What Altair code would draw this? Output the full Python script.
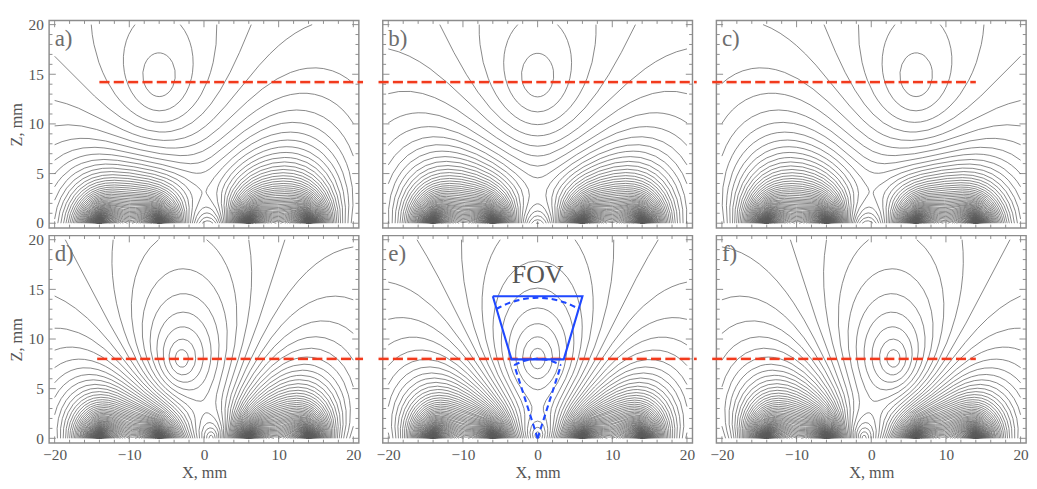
import math
import numpy as np
import pandas as pd
import altair as alt

# ---------------- values ----------------
PANEL_IDS = ["a", "b", "c", "d", "e", "f"]
PANEL_LABELS = ["a)", "b)", "c)", "d)", "e)", "f)"]
# field-free point of each panel (mm)
FFP_X = [-6.0, 0.0, 6.0, -3.0, 0.0, 3.0]
FFP_Z = [14.6, 14.6, 14.6, 8.0, 8.0, 8.0]
# magnet blocks below z = 0 (where the contour fans converge),
# magnetised along x, pointing towards each other
MAGNET_X0 = [-14.0, 6.0]
MAGNET_X1 = [-6.0, 14.0]
MAGNET_SIGN = [1.0, -1.0]
MAGNET_DEPTH = 4.0
# the innermost closed contour of panel e passes through this point
INNER_LOOP_PANEL = 4
INNER_LOOP_X = 0.0
INNER_LOOP_Z = 7.0
LEVEL_COUNT = 260

# red dashed line (crosses the gaps between panels)
RED_Z = [14.2, 14.2, 14.2, 8.0, 8.0, 8.0]
RED_X0 = [-14.0, -21.3, -21.3, -14.3, -21.3, -21.3]
RED_X1 = [21.3, 21.3, 14.0, 21.3, 21.3, 14.0]

# ticks
X_MAJOR = [-20, -10, 0, 10, 20]
X_MINOR = [-18, -16, -14, -12, -8, -6, -4, -2, 2, 4, 6, 8, 12, 14, 16, 18]
Z_MAJOR = [0, 5, 10, 15, 20]
Z_MINOR = [1, 2, 3, 4, 6, 7, 8, 9, 11, 12, 13, 14, 16, 17, 18, 19]

# FOV in panel e
FOV_X = [-6.0, 6.0, 3.5, -3.5, -6.0]
FOV_Z = [14.3, 14.3, 7.95, 7.95, 14.3]
FOV_OUTER_R = 14.15
FOV_INNER_R = 8.0
FOV_HALF_ANGLE = 23.0

# ---------------- layout ----------------
W, H = 324, 217
XDOM = [-20.74, 20.74]
ZDOM = [-0.48, 20.41]
PX_X = W / (XDOM[1] - XDOM[0])
PX_Z = H / (ZDOM[1] - ZDOM[0])
SERIF = "Liberation Serif"
GRAY_TXT = "#555555"
MAJOR_LEN, MINOR_LEN = 7.0, 3.5   # px

# ---------------- field model ----------------
XS = np.linspace(-20, 20, 201)
ZS = np.linspace(0, 20, 101)
GX, GZ = np.meshgrid(XS, ZS)


def face_field(x, z, x0, q):
    """vertical charged face at x = x0 from z = -MAGNET_DEPTH to 0."""
    dx = x - x0
    dx = np.where(np.abs(dx) < 1e-6, 1e-6, dx)
    z1, z2 = -MAGNET_DEPTH, 0.0
    r1 = dx ** 2 + (z - z1) ** 2
    r2 = dx ** 2 + (z - z2) ** 2 + 1e-4
    bz = 0.5 * np.log(r1 / r2)
    bx = np.arctan((z - z1) / dx) - np.arctan((z - z2) / dx)
    return q * bx, q * bz


def magnet_field(x, z):
    bx = np.zeros_like(x, dtype=float)
    bz = np.zeros_like(x, dtype=float)
    for a, b, sg in zip(MAGNET_X0, MAGNET_X1, MAGNET_SIGN):
        for x0, q in ((b, sg), (a, -sg)):
            fx, fz = face_field(x, z, x0, q)
            bx = bx + fx
            bz = bz + fz
    return bx, bz


def panel_field(p, x, z):
    bx, bz = magnet_field(np.asarray(x, float), np.asarray(z, float))
    fx, fz = magnet_field(np.array(FFP_X[p]), np.array(FFP_Z[p]))
    return np.hypot(bx - fx, bz - fz)


TABLE = {
    1: [(3, 0)], 2: [(0, 1)], 3: [(3, 1)], 4: [(1, 2)],
    5: [(3, 0), (1, 2)], 6: [(0, 2)], 7: [(3, 2)], 8: [(3, 2)],
    9: [(0, 2)], 10: [(0, 1), (3, 2)], 11: [(1, 2)], 12: [(3, 1)],
    13: [(0, 1)], 14: [(3, 0)],
}


def contour(F, level):
    nz, nx = F.shape
    s = (F > level).astype(np.int16)
    case = s[:-1, :-1] + 2 * s[:-1, 1:] + 4 * s[1:, 1:] + 8 * s[1:, :-1]
    ii, jj = np.nonzero((case > 0) & (case < 15))
    off = nz * nx
    adj = {}
    pts = {}

    def key_pt(i, j, e):
        if e == 0:
            a, b = F[i, j], F[i, j + 1]
            t = (level - a) / (b - a)
            return i * nx + j, (XS[j] + t * (XS[j + 1] - XS[j]), ZS[i])
        if e == 2:
            a, b = F[i + 1, j], F[i + 1, j + 1]
            t = (level - a) / (b - a)
            return (i + 1) * nx + j, (XS[j] + t * (XS[j + 1] - XS[j]), ZS[i + 1])
        if e == 3:
            a, b = F[i, j], F[i + 1, j]
            t = (level - a) / (b - a)
            return off + i * nx + j, (XS[j], ZS[i] + t * (ZS[i + 1] - ZS[i]))
        a, b = F[i, j + 1], F[i + 1, j + 1]
        t = (level - a) / (b - a)
        return off + i * nx + j + 1, (XS[j + 1], ZS[i] + t * (ZS[i + 1] - ZS[i]))

    for i, j in zip(ii, jj):
        for ea, eb in TABLE[int(case[i, j])]:
            ka, pa = key_pt(i, j, ea)
            kb, pb = key_pt(i, j, eb)
            pts[ka] = pa
            pts[kb] = pb
            adj.setdefault(ka, []).append(kb)
            adj.setdefault(kb, []).append(ka)

    visited = set()
    lines = []

    def walk(start):
        line = [start]
        visited.add(start)
        cur = start
        while True:
            nxt = None
            for n in adj[cur]:
                if n not in visited:
                    nxt = n
                    break
            if nxt is None:
                break
            visited.add(nxt)
            line.append(nxt)
            cur = nxt
        return line

    for k, v in adj.items():
        if len(v) == 1 and k not in visited:
            lines.append(walk(k))
    for k in adj:
        if k not in visited:
            ln = walk(k)
            ln.append(ln[0])
            lines.append(ln)
    return [np.array([pts[k] for k in ln]) for ln in lines]


def rdp(P, eps):
    n = len(P)
    if n < 3:
        return P
    Q = P * np.array([PX_X, PX_Z])
    keep = np.zeros(n, bool)
    keep[0] = keep[-1] = True
    stack = [(0, n - 1)]
    while stack:
        s, e = stack.pop()
        if e <= s + 1:
            continue
        a, b = Q[s], Q[e]
        seg = Q[s + 1:e]
        d = b - a
        L = math.hypot(d[0], d[1])
        if L < 1e-9:
            dist = np.hypot(seg[:, 0] - a[0], seg[:, 1] - a[1])
        else:
            dist = np.abs(d[0] * (seg[:, 1] - a[1]) - d[1] * (seg[:, 0] - a[0])) / L
        k = int(np.argmax(dist))
        if dist[k] > eps:
            m = s + 1 + k
            keep[m] = True
            stack.append((s, m))
            stack.append((m, e))
    return P[keep]


DELTA = float(panel_field(INNER_LOOP_PANEL, INNER_LOOP_X, INNER_LOOP_Z))
LEVELS = [DELTA * (k + 1) for k in range(LEVEL_COUNT)]

COLS = ["kind", "panel", "line", "k", "x", "z", "x2", "z2", "text"]
rows = []
lid = 0
for p in range(6):
    pid = PANEL_IDS[p]
    F = panel_field(p, GX, GZ)
    for lev in LEVELS:
        if lev >= F.max():
            break
        for ln in contour(F, lev):
            if len(ln) < 2:
                continue
            ln = rdp(ln, 0.35)
            for k, (x, z) in enumerate(ln):
                rows.append(("c", pid, lid, k, round(float(x), 3), round(float(z), 3),
                             None, None, None))
            lid += 1
    # frame ticks (inward)
    for vals, ln in ((X_MAJOR, MAJOR_LEN), (X_MINOR, MINOR_LEN)):
        for v in vals:
            rows.append(("t", pid, 0, 0, v, ZDOM[0], v, ZDOM[0] + ln / PX_Z, None))
            rows.append(("t", pid, 0, 0, v, ZDOM[1], v, ZDOM[1] - ln / PX_Z, None))
    for vals, ln in ((Z_MAJOR, MAJOR_LEN), (Z_MINOR, MINOR_LEN)):
        for v in vals:
            rows.append(("t", pid, 0, 0, XDOM[0], v, XDOM[0] + ln / PX_X, v, None))
            rows.append(("t", pid, 0, 0, XDOM[1], v, XDOM[1] - ln / PX_X, v, None))
    # red dashed line
    rows.append(("r", pid, 0, 0, RED_X0[p], RED_Z[p], RED_X1[p], RED_Z[p], None))
    # panel label
    rows.append(("l", pid, 0, 0, -20.0, 17.85, None, None, PANEL_LABELS[p]))

# FOV shapes (panel e)
for k, (x, z) in enumerate(zip(FOV_X, FOV_Z)):
    rows.append(("fs", "e", 0, k, x, z, None, None, None))
ang = np.radians(np.linspace(-FOV_HALF_ANGLE, FOV_HALF_ANGLE, 25))
for g, r in ((1, FOV_OUTER_R), (2, FOV_INNER_R)):
    for k, a in enumerate(ang):
        rows.append(("fd", "e", g, k, r * math.sin(a), r * math.cos(a), None, None, None))
for g, sgn in ((3, -1), (4, 1)):
    a = math.radians(FOV_HALF_ANGLE) * sgn
    rows.append(("fd", "e", g, 0, 0.0, 0.0, None, None, None))
    rows.append(("fd", "e", g, 1, FOV_INNER_R * math.sin(a), FOV_INNER_R * math.cos(a),
                 None, None, None))
rows.append(("ft", "e", 0, 0, 0.0, 15.6, None, None, "FOV"))

df = pd.DataFrame(rows, columns=COLS)

XSC = alt.Scale(domain=XDOM, nice=False, zero=False)
ZSC = alt.Scale(domain=ZDOM, nice=False, zero=False)
XAX = alt.Axis(values=X_MAJOR, format="d", ticks=False, domain=False, grid=False,
               labelPadding=2, title="X, mm", titlePadding=3, labelFlush=False)
ZAX = alt.Axis(values=Z_MAJOR, format="d", ticks=False, domain=False, grid=False,
               labelPadding=4, title="Z, mm", titlePadding=3, labelFlush=False)


def kind(k):
    return alt.datum.kind == k


X_ENC = alt.X("x:Q", scale=XSC, axis=XAX)
Z_ENC = alt.Y("z:Q", scale=ZSC, axis=ZAX)

ticks = alt.Chart().transform_filter(kind("t")).mark_rule(
    color="#8a8a8a", strokeWidth=1).encode(x=X_ENC, y=Z_ENC, x2="x2:Q", y2="z2:Q")
lines = alt.Chart().transform_filter(kind("c")).mark_line(
    color="#5a5a5a", strokeWidth=0.75).encode(
    x=X_ENC, y=Z_ENC, detail="line:N", order="k:Q")
redhalo = alt.Chart().transform_filter(kind("r")).mark_rule(
    color="#f23a1c", strokeWidth=4.5, opacity=0.18, strokeDash=[10.5, 4.5]).encode(
    x=X_ENC, y=Z_ENC, x2="x2:Q")
redline = alt.Chart().transform_filter(kind("r")).mark_rule(
    color="#f23a1c", strokeWidth=2.3, strokeDash=[10.5, 4.5]).encode(
    x=X_ENC, y=Z_ENC, x2="x2:Q")
lab = alt.Chart().transform_filter(kind("l")).mark_text(
    align="left", baseline="alphabetic", font=SERIF, fontSize=24,
    color="#6e6e6e").encode(x=X_ENC, y=Z_ENC, text="text:N")
fdash = alt.Chart().transform_filter(kind("fd")).mark_line(
    color="#1f48ff", strokeWidth=2.2, strokeDash=[6, 4]).encode(
    x=X_ENC, y=Z_ENC, detail="line:N", order="k:Q")
fsolid = alt.Chart().transform_filter(kind("fs")).mark_line(
    color="#1f48ff", strokeWidth=2.2).encode(x=X_ENC, y=Z_ENC, order="k:Q")
ftext = alt.Chart().transform_filter(kind("ft")).mark_text(
    align="center", baseline="alphabetic", font=SERIF, fontSize=27,
    color="#555555").encode(x=X_ENC, y=Z_ENC, text="text:N")

HDR = dict(labels=False, title=None, labelFontSize=0, labelPadding=0,
           titleFontSize=0, titlePadding=0)

chart = alt.layer(ticks, lines, redhalo, redline, lab, fdash, fsolid, ftext,
                  data=df).properties(width=W, height=H).facet(
    facet=alt.Facet("panel:N", header=alt.Header(**HDR), title=None),
    columns=3, spacing={"row": 4, "column": 9}
).properties(
    padding={"left": 0, "top": -2, "right": 0, "bottom": 0}
).configure_view(stroke="#8c8c8c", strokeWidth=1.5).configure_axis(
    labelFont=SERIF, labelFontSize=16, labelColor=GRAY_TXT,
    titleFont=SERIF, titleFontSize=17, titleFontWeight="normal", titleColor=GRAY_TXT
).configure_header(**HDR).configure_headerFacet(**HDR)

chart.save("out.html", embed_options={"renderer": "svg", "actions": False})
